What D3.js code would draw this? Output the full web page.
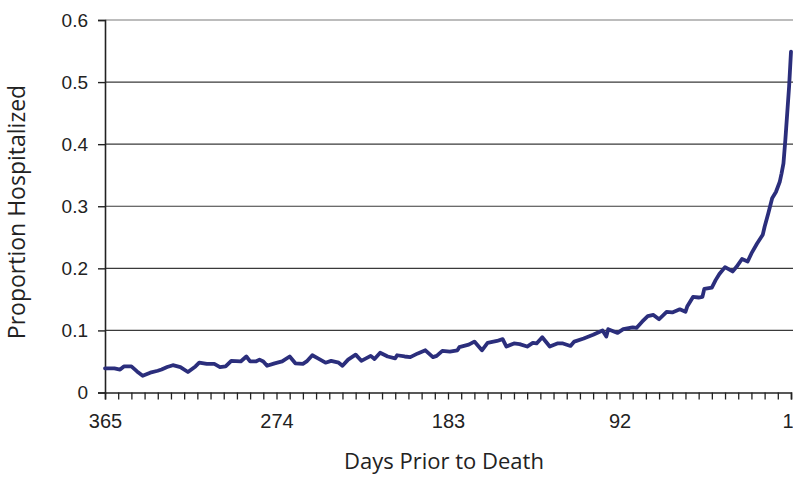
<!DOCTYPE html>
<html>
<head>
<meta charset="utf-8">
<script src="https://cdn.jsdelivr.net/npm/d3@7"></script>
<style>
  html, body { margin: 0; padding: 0; background: #fff; }
  svg { display: block; }
</style>
</head>
<body>
<svg id="chart" width="793" height="478"></svg>
<script>
// Days before death (x) and proportion of decedents hospitalized on that day (y)
const days = [365, 360, 357, 355, 351, 348, 345, 341, 337, 335, 332, 329, 325, 321, 317, 315, 311, 307, 304, 301,
  298, 293, 290, 288, 285, 283, 281, 279, 275, 271, 267, 264, 260, 258, 255, 252, 248, 245, 241, 239,
  236, 232, 229, 224, 222, 219, 215, 211, 210, 206, 203, 199, 195, 191, 189, 186, 182, 178, 177, 172,
  169, 165, 162, 157, 154, 152, 148, 145, 141, 138, 136, 133, 129, 125, 122, 118, 116, 111, 106, 101,
  99, 98, 93, 90, 85, 83, 80, 77, 74, 71, 67, 64, 60, 57, 56, 53, 50, 48, 47, 43,
  41, 39, 36, 32, 30, 27, 24, 22, 19, 16, 15, 13, 11, 9, 7, 6, 5, 4, 3, 2, 1];
const proportion = [0.039, 0.039, 0.037, 0.042, 0.042, 0.034, 0.027, 0.032, 0.035, 0.037, 0.041, 0.044, 0.041, 0.033, 0.042, 0.048, 0.046, 0.046, 0.041, 0.042,
  0.051, 0.050, 0.058, 0.050, 0.050, 0.053, 0.050, 0.043, 0.047, 0.050, 0.058, 0.047, 0.046, 0.050, 0.060, 0.055, 0.048, 0.051, 0.048, 0.043,
  0.053, 0.061, 0.051, 0.059, 0.054, 0.064, 0.058, 0.055, 0.060, 0.058, 0.057, 0.063, 0.068, 0.057, 0.059, 0.067, 0.066, 0.068, 0.073, 0.077,
  0.082, 0.068, 0.080, 0.083, 0.086, 0.074, 0.079, 0.078, 0.074, 0.080, 0.079, 0.089, 0.074, 0.079, 0.079, 0.075, 0.082, 0.087, 0.093, 0.100,
  0.090, 0.102, 0.096, 0.102, 0.105, 0.104, 0.114, 0.123, 0.125, 0.118, 0.130, 0.129, 0.134, 0.130, 0.139, 0.154, 0.153, 0.154, 0.167, 0.169,
  0.181, 0.191, 0.202, 0.195, 0.202, 0.215, 0.211, 0.224, 0.240, 0.254, 0.267, 0.289, 0.313, 0.323, 0.339, 0.353, 0.369, 0.407, 0.450, 0.493, 0.549];

// Weekly ticks from 365 down to 1; every 13th week is labelled
const weekTicks = d3.range(365, 0, -7);
const labelledDays = [365, 274, 183, 92, 1];
const yTicks = [0, 0.1, 0.2, 0.3, 0.4, 0.5, 0.6];

const xLabel = "Days Prior to Death";
const yLabel = "Proportion Hospitalized";

const svg = d3.select("#chart");
const plotLeft = 105, plotRight = 791, plotTop = 20, plotBottom = 392.5;

const x = d3.scaleLinear().domain([365, 1]).range([plotLeft, plotRight]);
const y = d3.scaleLinear().domain([0, 0.6]).range([plotBottom, plotTop]);

// horizontal gridlines
svg.append("g")
  .selectAll("line")
  .data(yTicks.filter(d => d > 0))
  .join("line")
  .attr("x1", plotLeft).attr("x2", 793)
  .attr("y1", d => y(d)).attr("y2", d => y(d))
  .attr("stroke", d => d === 0.6 ? "#a6a6a6" : "#3a3a3a")
  .attr("stroke-width", d => d === 0.6 ? 1.6 : 1.2);

// y axis
const yAxis = svg.append("g")
  .attr("transform", `translate(${plotLeft},0)`)
  .call(d3.axisLeft(y).tickValues(yTicks).tickSize(7).tickPadding(10)
    .tickFormat(d => d === 0 ? "0" : d3.format(".1f")(d)));
yAxis.select(".domain").attr("stroke", "#222").attr("stroke-width", 1.6);
yAxis.selectAll(".tick line").attr("stroke", "#222").attr("stroke-width", 1.4);
yAxis.selectAll(".tick text")
  .attr("font-family", "'Liberation Sans', Arial, sans-serif")
  .attr("font-size", 19).attr("fill", "#222");

// x axis
const xAxis = svg.append("g")
  .attr("transform", `translate(0,${plotBottom})`)
  .call(d3.axisBottom(x).tickValues(weekTicks).tickSize(7).tickPadding(14)
    .tickFormat(d => labelledDays.includes(d) ? String(d) : ""));
xAxis.select(".domain").attr("stroke", "#222").attr("stroke-width", 1.6);
xAxis.selectAll(".tick line").attr("stroke", "#222").attr("stroke-width", 1.3);
xAxis.selectAll(".tick text")
  .attr("font-family", "'Liberation Sans', Arial, sans-serif")
  .attr("font-size", 20).attr("fill", "#222")
  .attr("text-anchor", d => d === 1 ? "end" : "middle")
  .attr("dx", d => d === 1 ? 2 : 0);

// series line
const line = d3.line()
  .x((d, i) => x(days[i]))
  .y(d => y(d))
  .curve(d3.curveLinear);
svg.append("path")
  .datum(proportion)
  .attr("d", line)
  .attr("fill", "none")
  .attr("stroke", "#2b2e7c")
  .attr("stroke-width", 3.8)
  .attr("stroke-linejoin", "round")
  .attr("stroke-linecap", "round");

// axis titles
svg.append("text")
  .attr("x", 444).attr("y", 469)
  .attr("text-anchor", "middle")
  .attr("font-family", "'Open Sans', 'Noto Sans', sans-serif")
  .attr("font-size", 22).attr("fill", "#222")
  .text(xLabel);

svg.append("text")
  .attr("transform", "translate(25,212) rotate(-90)")
  .attr("text-anchor", "middle")
  .attr("font-family", "'Open Sans', 'Noto Sans', sans-serif")
  .attr("font-size", 23).attr("fill", "#222")
  .text(yLabel);
</script>
</body>
</html>
